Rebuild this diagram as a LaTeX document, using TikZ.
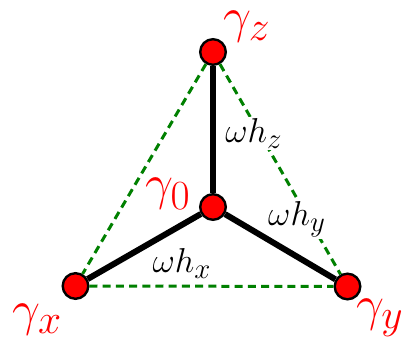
\documentclass[tikz,border=0pt]{standalone}
\usetikzlibrary{positioning}
\definecolor{sitered}  {HTML}{FF0000}
\definecolor{linkgreen}{HTML}{008000}
\tikzset{
  siteball/.style={
    circle, draw=black, line width=1.2pt, fill=sitered,
    minimum size=12.8pt, inner sep=0pt
  },
  bondline/.style={line width=3pt, draw=black},
  linkdash/.style={line width=1.5pt, draw=linkgreen, dash pattern=on 4pt off 2.6pt},
  sitelabel/.style={text=sitered, font=\Huge, anchor=base, inner sep=0pt},
  bondlabel/.style={font=\fontsize{19}{23}\selectfont, anchor=base, fill=white, inner sep=1pt}
}

\begin{document}
\begin{tikzpicture}[x=0.5pt, y=-0.5pt]
    \useasboundingbox (0,0) rectangle (404,341);
    \node[siteball] (g0) at (213,207) {};
    \node[siteball] (gz) at (213,52) {};
    \node[siteball] (gx) at (75.5,286) {};
    \node[siteball] (gy) at (347.5,286.5) {};

    \node[sitelabel] (lz) at (247,33) {$\gamma_z$};
    \node[sitelabel] (l0) at (168,200) {$\gamma_0$};
    \node[sitelabel] (lx) at (37.5,326) {$\gamma_x$};
    \node[sitelabel] (ly) at (380,321) {$\gamma_y$};

    \draw[linkdash] (gz) -- (gx);
    \draw[linkdash] (gz) -- (gy);
    \draw[linkdash] (gx) -- (gy);

    \node[bondlabel] (hz) at (254,143) {$\omega h_z$};
    \node[bondlabel] (hy) at (297,226) {$\omega h_y$};
    \node[bondlabel] (hx) at (182,273) {$\omega h_x$};

    \draw[bondline] (g0) -- (gz);
    \draw[bondline] (g0) -- (gx);
    \draw[bondline] (g0) -- (gy);
  \end{tikzpicture}
\end{document}
